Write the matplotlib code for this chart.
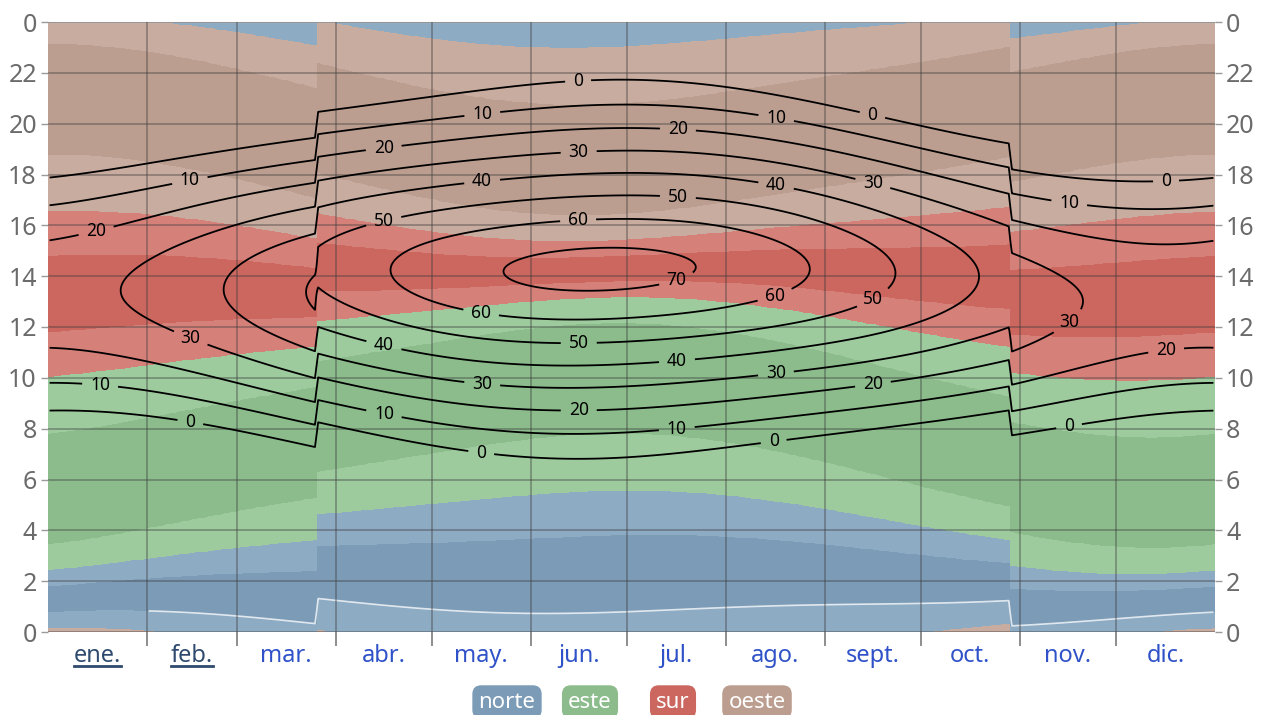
import numpy as np
import matplotlib
matplotlib.use('Agg')
import matplotlib.pyplot as plt
from matplotlib.colors import ListedColormap
from matplotlib.lines import Line2D

# site and clock (Madrid, 2023)
LATITUDE = 40.42
LONGITUDE = -3.70
UTC_OFFSET_WINTER = 1
UTC_OFFSET_SUMMER = 2
DST_FIRST_DAY = 85     # 26 mar., day of year
DST_LAST_DAY = 301     # 28 oct.

MONTHS = ['ene.', 'feb.', 'mar.', 'abr.', 'may.', 'jun.',
          'jul.', 'ago.', 'sept.', 'oct.', 'nov.', 'dic.']
MONTH_DAYS = [31, 28, 31, 30, 31, 30, 31, 31, 30, 31, 30, 31]
LINKED_MONTHS = ['ene.', 'feb.']
HOUR_TICKS = list(range(0, 25, 2))
HOUR_LABELS = [str(h % 24) for h in HOUR_TICKS]
ELEVATION_LEVELS = [0, 10, 20, 30, 40, 50, 60, 70]
DIRECTIONS = ['norte', 'este', 'sur', 'oeste']

# where the elevation labels sit (day of year, clock hour)
LABEL_SPOTS = [(165.8, 21.67), (135.8, 20.42), (227.7, 20.18), (257.7, 20.26),
               (197, 19.75), (105, 19.04), (166, 18.84), (258, 17.66),
               (135.8, 17.70), (227.7, 17.55), (349.7, 17.70), (44.4, 17.74),
               (105, 16.17), (197, 17.11), (319.4, 16.88), (15, 15.81),
               (165.8, 16.21), (196.7, 13.81), (227.4, 13.22), (258, 13.14),
               (319.4, 12.16), (135.4, 12.51), (44.4, 11.49), (105, 11.25),
               (166, 11.37), (349.7, 11.09), (196.7, 10.7), (227.7, 10.15),
               (16.3, 9.72), (135.8, 9.76), (258, 9.76), (105, 8.54),
               (166, 8.69), (44.4, 8.18), (196.7, 7.95), (319.4, 8.06),
               (227, 7.47), (135.4, 6.96)]

# colours: full colour for the cardinal point, light tint for the in-between directions
CORE = {'norte': '#7b9bb6', 'este': '#8cbc8c', 'sur': '#cb675f', 'oeste': '#bc9e90'}
TINT = {'norte': '#8eabc4', 'este': '#9ecb9e', 'sur': '#d6807a', 'oeste': '#c8ac9f'}

plt.rcParams['font.family'] = ['Noto Sans', 'DejaVu Sans']

# sun position on a day x minute grid
days = np.arange(365)
hours = (np.arange(1440) + 0.5) / 60.0
D, H = np.meshgrid(days, hours)
doy = D + 1
offset = np.where((doy >= DST_FIRST_DAY) & (doy <= DST_LAST_DAY),
                  UTC_OFFSET_SUMMER, UTC_OFFSET_WINTER)
utc = H - offset
g = 2 * np.pi / 365 * (doy - 1 + (utc - 12) / 24)
eqtime = 229.18 * (0.000075 + 0.001868 * np.cos(g) - 0.032077 * np.sin(g)
                   - 0.014615 * np.cos(2 * g) - 0.040849 * np.sin(2 * g))
decl = (0.006918 - 0.399912 * np.cos(g) + 0.070257 * np.sin(g)
        - 0.006758 * np.cos(2 * g) + 0.000907 * np.sin(2 * g)
        - 0.002697 * np.cos(3 * g) + 0.00148 * np.sin(3 * g))
tst = H * 60 + eqtime + 4 * LONGITUDE - 60 * offset
ha = np.radians(tst / 4 - 180)
lat = np.radians(LATITUDE)
elev = np.degrees(np.arcsin(np.sin(lat) * np.sin(decl)
                            + np.cos(lat) * np.cos(decl) * np.cos(ha)))
az = (np.degrees(np.arctan2(np.sin(ha), np.cos(ha) * np.sin(lat)
                            - np.tan(decl) * np.cos(lat))) + 180) % 360

# 16 sectors of 22.5 deg starting at north
sector = np.floor(az / 22.5).astype(int) % 16
quad = ['norte', 'norte', 'este', 'este', 'este', 'este', 'sur', 'sur',
        'sur', 'sur', 'oeste', 'oeste', 'oeste', 'oeste', 'norte', 'norte']
shade = ['c', 't', 't', 'c', 'c', 't', 't', 'c', 'c', 't', 't', 'c', 'c', 't', 't', 'c']
sector_colors = [CORE[q] if s == 'c' else TINT[q] for q, s in zip(quad, shade)]

fig = plt.figure(figsize=(12.63, 7.15), dpi=100)
ax = fig.add_axes([48 / 1263, 1 - 632 / 715, (1215 - 48) / 1263, (632 - 22) / 715])

ax.imshow(sector, extent=[0, 365, 0, 24], origin='lower', aspect='auto',
          interpolation='nearest', cmap=ListedColormap(sector_colors),
          vmin=-0.5, vmax=15.5, zorder=0)

# thin light seam on the north-north-west edge, as in the source
az_north = np.where(az > 180, az, az + 360)
az_north = np.where(((az > 270) | (az < 90)) & (D >= MONTH_DAYS[0]), az_north, np.nan)
ax.contour(days + 0.5, hours, az_north, levels=[337.5], colors='white',
           linewidths=1.2, alpha=0.75, zorder=1)

cs = ax.contour(days + 0.5, hours, elev, levels=ELEVATION_LEVELS,
                colors='black', linewidths=1.3, zorder=3)
labels = ax.clabel(cs, fmt='%d', fontsize=12.5, inline=True, inline_spacing=8,
                   manual=LABEL_SPOTS)
for t in labels:
    t.set_rotation(0)

# month boundaries (grid) and month names in between
bounds = np.cumsum([0] + MONTH_DAYS)
ax.set_xlim(0, 365)
ax.set_ylim(0, 24)
ax.set_xticks(bounds[1:-1])
ax.set_xticklabels([])
ax.set_xticks((bounds[:-1] + bounds[1:]) / 2, minor=True)
ax.set_xticklabels(MONTHS, minor=True)
ax.tick_params(axis='x', which='major', length=10, width=1.2, color='#7a7a7a')
ax.tick_params(axis='x', which='minor', length=0, pad=9, labelsize=17,
               labelcolor='#2f52c8')
ax.set_yticks(HOUR_TICKS)
ax.set_yticklabels(HOUR_LABELS)
ax.tick_params(axis='y', length=5, width=1, color='#9a9a9a', labelsize=18,
               labelcolor='#6b6b6b', left=True, right=True,
               labelleft=True, labelright=True, pad=3)
ax.grid(True, which='major', color='#3c3c3c', alpha=0.45, linewidth=1.2)
ax.set_axisbelow(False)
for side in ['left', 'right', 'bottom']:
    ax.spines[side].set_visible(False)
ax.spines['top'].set_color('#cfcfcf')

# linked months are underlined
fig.canvas.draw()
renderer = fig.canvas.get_renderer()
for lab in ax.get_xticklabels(minor=True):
    if lab.get_text() in LINKED_MONTHS:
        lab.set_color('#2e4a6e')
        bb = lab.get_window_extent(renderer)
        yline = (bb.y0 + 3) / fig.bbox.height
        fig.add_artist(Line2D([bb.x0 / fig.bbox.width, bb.x1 / fig.bbox.width],
                              [yline, yline], color='#2e4a6e', lw=2))

# legend chips
chip_x = [507, 590, 673, 757]
for name, cx in zip(DIRECTIONS, chip_x):
    fig.text(cx / 1263, 1 - 702 / 715, name, ha='center', va='center',
             color='white', fontsize=16,
             bbox=dict(boxstyle='round,pad=0.28,rounding_size=0.4',
                       fc=CORE[name], ec='none'))

fig.savefig('out.png', dpi=100)
